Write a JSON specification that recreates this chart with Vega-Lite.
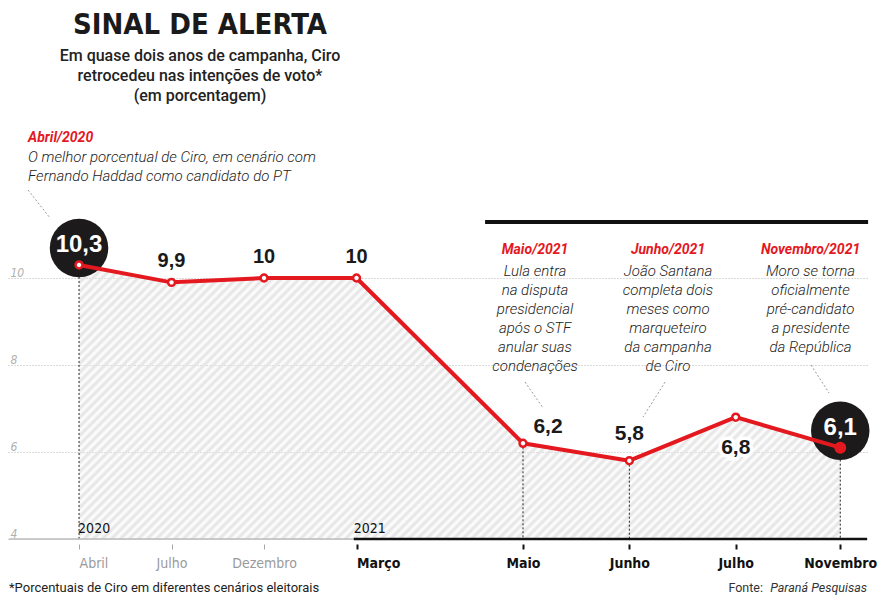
{
  "$schema": "https://vega.github.io/schema/vega-lite/v6.json",
  "autosize": "none",
  "width": 860,
  "height": 539,
  "padding": {"left": 8, "top": 0, "right": 18, "bottom": 61},
  "background": "white",
  "title": {
    "text": "SINAL DE ALERTA",
    "subtitle": ["Em quase dois anos de campanha, Ciro", "retrocedeu nas intenções de voto*", "(em porcentagem)"],
    "anchor": "start",
    "align": "center",
    "dx": 192,
    "frame": "group",
    "offset": -104,
    "font": "DejaVu Sans Condensed, sans-serif",
    "fontSize": 29,
    "fontWeight": "bold",
    "color": "#1a1a1a",
    "subtitleFont": "Roboto, sans-serif",
    "subtitleFontSize": 16,
    "subtitleFontWeight": 500,
    "subtitleColor": "#222222",
    "subtitleLineHeight": 20,
    "subtitlePadding": 8
  },
  "config": {"view": {"stroke": null}},
  "datasets": {
    "pesquisa": [
      {"periodo": "Abr/2020", "t": 0, "valor": 10.3, "destaque": true, "nota": true},
      {"periodo": "Jul/2020", "t": 1, "valor": 9.9, "destaque": false, "nota": false},
      {"periodo": "Dez/2020", "t": 2, "valor": 10, "destaque": false, "nota": false},
      {"periodo": "Mar/2021", "t": 3, "valor": 10, "destaque": false, "nota": false},
      {"periodo": "Mai/2021", "t": 4.8, "valor": 6.2, "destaque": false, "nota": true},
      {"periodo": "Jun/2021", "t": 5.95, "valor": 5.8, "destaque": false, "nota": true},
      {"periodo": "Jul/2021", "t": 7.1, "valor": 6.8, "destaque": false, "nota": false},
      {"periodo": "Nov/2021", "t": 8.23, "valor": 6.1, "destaque": true, "nota": true}
    ],
    "notas": [
      {"x": -0.551, "y": 13.126, "lado": "esquerda", "titulo": "Abril/2020", "texto": "O melhor porcentual de Ciro, em cenário com\nFernando Haddad como candidato do PT"},
      {"x": 4.93, "y": 10.552, "lado": "direita", "titulo": "Maio/2021", "texto": "Lula entra\nna disputa\npresidencial\napós o STF\nanular suas\ncondenações"},
      {"x": 6.368, "y": 10.552, "lado": "direita", "titulo": "Junho/2021", "texto": "João Santana\ncompleta dois\nmeses como\nmarqueteiro\nda campanha\nde Ciro"},
      {"x": 7.909, "y": 10.552, "lado": "direita", "titulo": "Novembro/2021", "texto": "Moro se torna\noficialmente\npré-candidato\na presidente\nda República"}
    ],
    "guias": [
      {"x": -0.551, "y": 12.023, "x2": -0.3135, "y2": 11.379},
      {"x": 4.822, "y": 7.609, "x2": 5.017, "y2": 7.011},
      {"x": 6.336, "y": 7.609, "x2": 6.098, "y2": 6.805},
      {"x": 7.914, "y": 8.0, "x2": 8.109, "y2": 7.356}
    ],
    "segmentos": [
      {"x": -0.757, "x2": 2.97, "y": 4, "tipo": "2020"},
      {"x": 2.97, "x2": 8.52, "y": 4, "tipo": "2021"},
      {"x": 4.39, "x2": 8.531, "y": 11.287, "tipo": "topo"}
    ],
    "anos": [
      {"x": -0.01, "y": 4, "texto": "2020"},
      {"x": 2.97, "y": 4, "texto": "2021"}
    ],
    "rodape": [
      {"x": -0.757, "y": 2.782, "tipo": "nota", "texto": "*Porcentuais de Ciro em diferentes cenários eleitorais"},
      {"x": 7.395, "y": 2.782, "tipo": "fonte", "texto": "Fonte:"},
      {"x": 8.52, "y": 2.782, "tipo": "instituto", "texto": "Paraná Pesquisas"}
    ]
  },
  "layer": [
    {
      "data": {"name": "pesquisa"},
      "mark": {
        "type": "area",
        "fill": {
          "gradient": "linear", "x1": 0, "y1": 0, "x2": 1.309, "y2": 0.471,
          "stops": [
            {"offset":0,"color":"#e3e3e3"},{"offset":0.004,"color":"rgba(227,227,227,0)"},{"offset":0.008,"color":"#e3e3e3"},{"offset":0.012,"color":"rgba(227,227,227,0)"},{"offset":0.016,"color":"#e3e3e3"},{"offset":0.02,"color":"rgba(227,227,227,0)"},{"offset":0.024,"color":"#e3e3e3"},{"offset":0.028,"color":"rgba(227,227,227,0)"},{"offset":0.032,"color":"#e3e3e3"},{"offset":0.036,"color":"rgba(227,227,227,0)"},
            {"offset":0.04,"color":"#e3e3e3"},{"offset":0.044,"color":"rgba(227,227,227,0)"},{"offset":0.048,"color":"#e3e3e3"},{"offset":0.052,"color":"rgba(227,227,227,0)"},{"offset":0.056,"color":"#e3e3e3"},{"offset":0.06,"color":"rgba(227,227,227,0)"},{"offset":0.064,"color":"#e3e3e3"},{"offset":0.068,"color":"rgba(227,227,227,0)"},{"offset":0.072,"color":"#e3e3e3"},{"offset":0.076,"color":"rgba(227,227,227,0)"},
            {"offset":0.08,"color":"#e3e3e3"},{"offset":0.084,"color":"rgba(227,227,227,0)"},{"offset":0.088,"color":"#e3e3e3"},{"offset":0.092,"color":"rgba(227,227,227,0)"},{"offset":0.096,"color":"#e3e3e3"},{"offset":0.1,"color":"rgba(227,227,227,0)"},{"offset":0.104,"color":"#e3e3e3"},{"offset":0.108,"color":"rgba(227,227,227,0)"},{"offset":0.112,"color":"#e3e3e3"},{"offset":0.116,"color":"rgba(227,227,227,0)"},
            {"offset":0.12,"color":"#e3e3e3"},{"offset":0.124,"color":"rgba(227,227,227,0)"},{"offset":0.128,"color":"#e3e3e3"},{"offset":0.132,"color":"rgba(227,227,227,0)"},{"offset":0.136,"color":"#e3e3e3"},{"offset":0.14,"color":"rgba(227,227,227,0)"},{"offset":0.144,"color":"#e3e3e3"},{"offset":0.148,"color":"rgba(227,227,227,0)"},{"offset":0.152,"color":"#e3e3e3"},{"offset":0.156,"color":"rgba(227,227,227,0)"},
            {"offset":0.16,"color":"#e3e3e3"},{"offset":0.164,"color":"rgba(227,227,227,0)"},{"offset":0.168,"color":"#e3e3e3"},{"offset":0.172,"color":"rgba(227,227,227,0)"},{"offset":0.176,"color":"#e3e3e3"},{"offset":0.18,"color":"rgba(227,227,227,0)"},{"offset":0.184,"color":"#e3e3e3"},{"offset":0.188,"color":"rgba(227,227,227,0)"},{"offset":0.192,"color":"#e3e3e3"},{"offset":0.196,"color":"rgba(227,227,227,0)"},
            {"offset":0.2,"color":"#e3e3e3"},{"offset":0.204,"color":"rgba(227,227,227,0)"},{"offset":0.208,"color":"#e3e3e3"},{"offset":0.212,"color":"rgba(227,227,227,0)"},{"offset":0.216,"color":"#e3e3e3"},{"offset":0.22,"color":"rgba(227,227,227,0)"},{"offset":0.224,"color":"#e3e3e3"},{"offset":0.228,"color":"rgba(227,227,227,0)"},{"offset":0.232,"color":"#e3e3e3"},{"offset":0.236,"color":"rgba(227,227,227,0)"},
            {"offset":0.24,"color":"#e3e3e3"},{"offset":0.244,"color":"rgba(227,227,227,0)"},{"offset":0.248,"color":"#e3e3e3"},{"offset":0.252,"color":"rgba(227,227,227,0)"},{"offset":0.256,"color":"#e3e3e3"},{"offset":0.26,"color":"rgba(227,227,227,0)"},{"offset":0.264,"color":"#e3e3e3"},{"offset":0.268,"color":"rgba(227,227,227,0)"},{"offset":0.272,"color":"#e3e3e3"},{"offset":0.276,"color":"rgba(227,227,227,0)"},
            {"offset":0.28,"color":"#e3e3e3"},{"offset":0.284,"color":"rgba(227,227,227,0)"},{"offset":0.288,"color":"#e3e3e3"},{"offset":0.292,"color":"rgba(227,227,227,0)"},{"offset":0.296,"color":"#e3e3e3"},{"offset":0.3,"color":"rgba(227,227,227,0)"},{"offset":0.304,"color":"#e3e3e3"},{"offset":0.308,"color":"rgba(227,227,227,0)"},{"offset":0.312,"color":"#e3e3e3"},{"offset":0.316,"color":"rgba(227,227,227,0)"},
            {"offset":0.32,"color":"#e3e3e3"},{"offset":0.324,"color":"rgba(227,227,227,0)"},{"offset":0.328,"color":"#e3e3e3"},{"offset":0.332,"color":"rgba(227,227,227,0)"},{"offset":0.336,"color":"#e3e3e3"},{"offset":0.34,"color":"rgba(227,227,227,0)"},{"offset":0.344,"color":"#e3e3e3"},{"offset":0.348,"color":"rgba(227,227,227,0)"},{"offset":0.352,"color":"#e3e3e3"},{"offset":0.356,"color":"rgba(227,227,227,0)"},
            {"offset":0.36,"color":"#e3e3e3"},{"offset":0.364,"color":"rgba(227,227,227,0)"},{"offset":0.368,"color":"#e3e3e3"},{"offset":0.372,"color":"rgba(227,227,227,0)"},{"offset":0.376,"color":"#e3e3e3"},{"offset":0.38,"color":"rgba(227,227,227,0)"},{"offset":0.384,"color":"#e3e3e3"},{"offset":0.388,"color":"rgba(227,227,227,0)"},{"offset":0.392,"color":"#e3e3e3"},{"offset":0.396,"color":"rgba(227,227,227,0)"},
            {"offset":0.4,"color":"#e3e3e3"},{"offset":0.404,"color":"rgba(227,227,227,0)"},{"offset":0.408,"color":"#e3e3e3"},{"offset":0.412,"color":"rgba(227,227,227,0)"},{"offset":0.416,"color":"#e3e3e3"},{"offset":0.42,"color":"rgba(227,227,227,0)"},{"offset":0.424,"color":"#e3e3e3"},{"offset":0.428,"color":"rgba(227,227,227,0)"},{"offset":0.432,"color":"#e3e3e3"},{"offset":0.436,"color":"rgba(227,227,227,0)"},
            {"offset":0.44,"color":"#e3e3e3"},{"offset":0.444,"color":"rgba(227,227,227,0)"},{"offset":0.448,"color":"#e3e3e3"},{"offset":0.452,"color":"rgba(227,227,227,0)"},{"offset":0.456,"color":"#e3e3e3"},{"offset":0.46,"color":"rgba(227,227,227,0)"},{"offset":0.464,"color":"#e3e3e3"},{"offset":0.468,"color":"rgba(227,227,227,0)"},{"offset":0.472,"color":"#e3e3e3"},{"offset":0.476,"color":"rgba(227,227,227,0)"},
            {"offset":0.48,"color":"#e3e3e3"},{"offset":0.484,"color":"rgba(227,227,227,0)"},{"offset":0.488,"color":"#e3e3e3"},{"offset":0.492,"color":"rgba(227,227,227,0)"},{"offset":0.496,"color":"#e3e3e3"},{"offset":0.5,"color":"rgba(227,227,227,0)"},{"offset":0.504,"color":"#e3e3e3"},{"offset":0.508,"color":"rgba(227,227,227,0)"},{"offset":0.512,"color":"#e3e3e3"},{"offset":0.516,"color":"rgba(227,227,227,0)"},
            {"offset":0.52,"color":"#e3e3e3"},{"offset":0.524,"color":"rgba(227,227,227,0)"},{"offset":0.528,"color":"#e3e3e3"},{"offset":0.532,"color":"rgba(227,227,227,0)"},{"offset":0.536,"color":"#e3e3e3"},{"offset":0.54,"color":"rgba(227,227,227,0)"},{"offset":0.544,"color":"#e3e3e3"},{"offset":0.548,"color":"rgba(227,227,227,0)"},{"offset":0.552,"color":"#e3e3e3"},{"offset":0.556,"color":"rgba(227,227,227,0)"},
            {"offset":0.56,"color":"#e3e3e3"},{"offset":0.564,"color":"rgba(227,227,227,0)"},{"offset":0.568,"color":"#e3e3e3"},{"offset":0.572,"color":"rgba(227,227,227,0)"},{"offset":0.576,"color":"#e3e3e3"},{"offset":0.58,"color":"rgba(227,227,227,0)"},{"offset":0.584,"color":"#e3e3e3"},{"offset":0.588,"color":"rgba(227,227,227,0)"},{"offset":0.592,"color":"#e3e3e3"},{"offset":0.596,"color":"rgba(227,227,227,0)"},
            {"offset":0.6,"color":"#e3e3e3"},{"offset":0.604,"color":"rgba(227,227,227,0)"},{"offset":0.608,"color":"#e3e3e3"},{"offset":0.612,"color":"rgba(227,227,227,0)"},{"offset":0.616,"color":"#e3e3e3"},{"offset":0.62,"color":"rgba(227,227,227,0)"},{"offset":0.624,"color":"#e3e3e3"},{"offset":0.628,"color":"rgba(227,227,227,0)"},{"offset":0.632,"color":"#e3e3e3"},{"offset":0.636,"color":"rgba(227,227,227,0)"},
            {"offset":0.64,"color":"#e3e3e3"},{"offset":0.644,"color":"rgba(227,227,227,0)"},{"offset":0.648,"color":"#e3e3e3"},{"offset":0.652,"color":"rgba(227,227,227,0)"},{"offset":0.656,"color":"#e3e3e3"},{"offset":0.66,"color":"rgba(227,227,227,0)"},{"offset":0.664,"color":"#e3e3e3"},{"offset":0.668,"color":"rgba(227,227,227,0)"},{"offset":0.672,"color":"#e3e3e3"},{"offset":0.676,"color":"rgba(227,227,227,0)"},
            {"offset":0.68,"color":"#e3e3e3"},{"offset":0.684,"color":"rgba(227,227,227,0)"},{"offset":0.688,"color":"#e3e3e3"},{"offset":0.692,"color":"rgba(227,227,227,0)"},{"offset":0.696,"color":"#e3e3e3"},{"offset":0.7,"color":"rgba(227,227,227,0)"},{"offset":0.704,"color":"#e3e3e3"},{"offset":0.708,"color":"rgba(227,227,227,0)"},{"offset":0.712,"color":"#e3e3e3"},{"offset":0.716,"color":"rgba(227,227,227,0)"},
            {"offset":0.72,"color":"#e3e3e3"},{"offset":0.724,"color":"rgba(227,227,227,0)"},{"offset":0.728,"color":"#e3e3e3"},{"offset":0.732,"color":"rgba(227,227,227,0)"},{"offset":0.736,"color":"#e3e3e3"},{"offset":0.74,"color":"rgba(227,227,227,0)"},{"offset":0.744,"color":"#e3e3e3"},{"offset":0.748,"color":"rgba(227,227,227,0)"},{"offset":0.752,"color":"#e3e3e3"},{"offset":0.756,"color":"rgba(227,227,227,0)"},
            {"offset":0.76,"color":"#e3e3e3"},{"offset":0.764,"color":"rgba(227,227,227,0)"},{"offset":0.768,"color":"#e3e3e3"},{"offset":0.772,"color":"rgba(227,227,227,0)"},{"offset":0.776,"color":"#e3e3e3"},{"offset":0.78,"color":"rgba(227,227,227,0)"},{"offset":0.784,"color":"#e3e3e3"},{"offset":0.788,"color":"rgba(227,227,227,0)"},{"offset":0.792,"color":"#e3e3e3"},{"offset":0.796,"color":"rgba(227,227,227,0)"},
            {"offset":0.8,"color":"#e3e3e3"},{"offset":0.804,"color":"rgba(227,227,227,0)"},{"offset":0.808,"color":"#e3e3e3"},{"offset":0.812,"color":"rgba(227,227,227,0)"},{"offset":0.816,"color":"#e3e3e3"},{"offset":0.82,"color":"rgba(227,227,227,0)"},{"offset":0.824,"color":"#e3e3e3"},{"offset":0.828,"color":"rgba(227,227,227,0)"},{"offset":0.832,"color":"#e3e3e3"},{"offset":0.836,"color":"rgba(227,227,227,0)"},
            {"offset":0.84,"color":"#e3e3e3"},{"offset":0.844,"color":"rgba(227,227,227,0)"},{"offset":0.848,"color":"#e3e3e3"},{"offset":0.852,"color":"rgba(227,227,227,0)"},{"offset":0.856,"color":"#e3e3e3"},{"offset":0.86,"color":"rgba(227,227,227,0)"},{"offset":0.864,"color":"#e3e3e3"},{"offset":0.868,"color":"rgba(227,227,227,0)"},{"offset":0.872,"color":"#e3e3e3"},{"offset":0.876,"color":"rgba(227,227,227,0)"},
            {"offset":0.88,"color":"#e3e3e3"},{"offset":0.884,"color":"rgba(227,227,227,0)"},{"offset":0.888,"color":"#e3e3e3"},{"offset":0.892,"color":"rgba(227,227,227,0)"},{"offset":0.896,"color":"#e3e3e3"},{"offset":0.9,"color":"rgba(227,227,227,0)"},{"offset":0.904,"color":"#e3e3e3"},{"offset":0.908,"color":"rgba(227,227,227,0)"},{"offset":0.912,"color":"#e3e3e3"},{"offset":0.916,"color":"rgba(227,227,227,0)"},
            {"offset":0.92,"color":"#e3e3e3"},{"offset":0.924,"color":"rgba(227,227,227,0)"},{"offset":0.928,"color":"#e3e3e3"},{"offset":0.932,"color":"rgba(227,227,227,0)"},{"offset":0.936,"color":"#e3e3e3"},{"offset":0.94,"color":"rgba(227,227,227,0)"},{"offset":0.944,"color":"#e3e3e3"},{"offset":0.948,"color":"rgba(227,227,227,0)"},{"offset":0.952,"color":"#e3e3e3"},{"offset":0.956,"color":"rgba(227,227,227,0)"},
            {"offset":0.96,"color":"#e3e3e3"}
          ]
        }
      },
      "encoding": {
        "x": {
          "field": "t", "type": "quantitative",
          "scale": {"domain": [-0.768, 8.53], "nice": false, "zero": false},
          "axis": {
            "title": null, "orient": "bottom",
            "values": [0, 1, 2, 3, 4.8, 5.95, 7.1, 8.23],
            "labelExpr": "datum.value == 0 ? 'Abril' : datum.value == 1 ? 'Julho' : datum.value == 2 ? 'Dezembro' : datum.value == 3 ? 'Março' : datum.value == 4.8 ? 'Maio' : datum.value == 5.95 ? 'Junho' : datum.value == 7.1 ? 'Julho' : 'Novembro'",
            "domain": false, "grid": false, "offset": 5, "tickSize": 5,
            "tickColor": {"condition": {"test": "datum.value < 2.5", "value": "#a8a8a8"}, "value": "#111111"},
            "tickWidth": {"condition": {"test": "datum.value < 2.5", "value": 1}, "value": 2},
            "labelColor": {"condition": {"test": "datum.value < 2.5", "value": "#9a9a9a"}, "value": "#111111"},
            "labelFontWeight": {"condition": {"test": "datum.value < 2.5", "value": "normal"}, "value": "bold"},
            "labelAlign": {"condition": {"test": "datum.value == 0 || datum.value == 3", "value": "left"}, "value": "center"},
            "labelFont": "DejaVu Sans Condensed, sans-serif",
            "labelFontSize": 14, "labelPadding": 7, "labelBaseline": "top",
            "labelFlush": false, "labelOverlap": false, "labelBound": false
          }
        },
        "y": {
          "field": "valor", "type": "quantitative",
          "scale": {"domain": [4, 16.391], "nice": false, "zero": false},
          "axis": {
            "title": null, "orient": "left", "values": [4, 6, 8, 10],
            "domain": false, "ticks": false, "tickSize": 0,
            "grid": true, "gridColor": "#b5b5b5", "gridDash": [1, 2], "gridWidth": 1,
            "labelAlign": "left", "labelBaseline": "alphabetic", "labelPadding": -2, "labelOffset": -2,
            "labelFont": "DejaVu Sans Condensed, sans-serif",
            "labelFontStyle": "italic", "labelFontSize": 12, "labelColor": "#b0b0b0"
          }
        },
        "y2": {"datum": 4}
      }
    },
    {
      "data": {"name": "pesquisa"},
      "transform": [{"filter": "datum.nota"}],
      "mark": {"type": "rule", "color": "#222222", "strokeDash": [2, 2], "strokeWidth": 1},
      "encoding": {
        "x": {"field": "t", "type": "quantitative"},
        "y": {"field": "valor", "type": "quantitative"},
        "y2": {"datum": 4}
      }
    },
    {
      "data": {"name": "guias"},
      "mark": {"type": "rule", "color": "#9a9a9a", "strokeDash": [2, 2], "strokeWidth": 1},
      "encoding": {
        "x": {"field": "x", "type": "quantitative"},
        "y": {"field": "y", "type": "quantitative"},
        "x2": {"field": "x2"},
        "y2": {"field": "y2"}
      }
    },
    {
      "data": {"name": "segmentos"},
      "mark": {"type": "rule", "strokeCap": "butt"},
      "encoding": {
        "x": {"field": "x", "type": "quantitative"},
        "x2": {"field": "x2"},
        "y": {"field": "y", "type": "quantitative"},
        "color": {"condition": {"test": "datum.tipo == '2020'", "value": "#bdbdbd"}, "value": "#111111"},
        "strokeWidth": {"condition": [{"test": "datum.tipo == '2020'", "value": 1.5}, {"test": "datum.tipo == '2021'", "value": 2.5}], "value": 4}
      }
    },
    {
      "data": {"name": "pesquisa"},
      "transform": [{"filter": "datum.destaque"}],
      "mark": {"type": "point", "shape": "circle", "filled": true, "color": "#1c1a1a", "size": 3420, "opacity": 1, "yOffset": -17},
      "encoding": {
        "x": {"field": "t", "type": "quantitative"},
        "y": {"field": "valor", "type": "quantitative"}
      }
    },
    {
      "data": {"name": "pesquisa"},
      "mark": {"type": "line", "color": "#e3191f", "strokeWidth": 4, "strokeJoin": "round"},
      "encoding": {
        "x": {"field": "t", "type": "quantitative"},
        "y": {"field": "valor", "type": "quantitative"}
      }
    },
    {
      "data": {"name": "pesquisa"},
      "mark": {"type": "point", "shape": "circle", "filled": true, "stroke": "#e3191f", "strokeWidth": 2.5, "opacity": 1},
      "encoding": {
        "x": {"field": "t", "type": "quantitative"},
        "y": {"field": "valor", "type": "quantitative"},
        "fill": {"condition": {"test": "datum.periodo == 'Nov/2021'", "value": "#e3191f"}, "value": "#ffffff"},
        "size": {"condition": {"test": "datum.periodo == 'Nov/2021'", "value": 90}, "value": 48}
      }
    },
    {
      "data": {"name": "pesquisa"},
      "transform": [{"filter": "datum.t >= 1 && datum.t <= 3"}, {"calculate": "replace(toString(datum.valor), '.', ',')", "as": "rotulo"}],
      "mark": {"type": "text", "font": "Liberation Sans, Arial, sans-serif", "fontWeight": "bold", "fontSize": 20, "color": "#1a1a1a", "align": "center", "baseline": "alphabetic", "dy": -15},
      "encoding": {
        "x": {"field": "t", "type": "quantitative"},
        "y": {"field": "valor", "type": "quantitative"},
        "text": {"field": "rotulo"}
      }
    },
    {
      "data": {"name": "pesquisa"},
      "transform": [{"filter": "datum.periodo == 'Mai/2021'"}, {"calculate": "replace(toString(datum.valor), '.', ',')", "as": "rotulo"}],
      "mark": {"type": "text", "font": "Liberation Sans, Arial, sans-serif", "fontWeight": "bold", "fontSize": 21, "color": "#1a1a1a", "align": "center", "baseline": "alphabetic", "dx": 25, "dy": -10},
      "encoding": {
        "x": {"field": "t", "type": "quantitative"},
        "y": {"field": "valor", "type": "quantitative"},
        "text": {"field": "rotulo"}
      }
    },
    {
      "data": {"name": "pesquisa"},
      "transform": [{"filter": "datum.periodo == 'Jun/2021'"}, {"calculate": "replace(toString(datum.valor), '.', ',')", "as": "rotulo"}],
      "mark": {"type": "text", "font": "Liberation Sans, Arial, sans-serif", "fontWeight": "bold", "fontSize": 21, "color": "#1a1a1a", "align": "center", "baseline": "alphabetic", "dy": -21},
      "encoding": {
        "x": {"field": "t", "type": "quantitative"},
        "y": {"field": "valor", "type": "quantitative"},
        "text": {"field": "rotulo"}
      }
    },
    {
      "data": {"name": "pesquisa"},
      "transform": [{"filter": "datum.periodo == 'Jul/2021'"}, {"calculate": "replace(toString(datum.valor), '.', ',')", "as": "rotulo"}],
      "mark": {"type": "text", "font": "Liberation Sans, Arial, sans-serif", "fontWeight": "bold", "fontSize": 21, "color": "#ffffff", "stroke": "#ffffff", "strokeWidth": 7, "align": "center", "baseline": "alphabetic", "dy": 37},
      "encoding": {
        "x": {"field": "t", "type": "quantitative"},
        "y": {"field": "valor", "type": "quantitative"},
        "text": {"field": "rotulo"}
      }
    },
    {
      "data": {"name": "pesquisa"},
      "transform": [{"filter": "datum.periodo == 'Jul/2021'"}, {"calculate": "replace(toString(datum.valor), '.', ',')", "as": "rotulo"}],
      "mark": {"type": "text", "font": "Liberation Sans, Arial, sans-serif", "fontWeight": "bold", "fontSize": 21, "color": "#1a1a1a", "align": "center", "baseline": "alphabetic", "dy": 37},
      "encoding": {
        "x": {"field": "t", "type": "quantitative"},
        "y": {"field": "valor", "type": "quantitative"},
        "text": {"field": "rotulo"}
      }
    },
    {
      "data": {"name": "pesquisa"},
      "transform": [{"filter": "datum.destaque"}, {"calculate": "replace(toString(datum.valor), '.', ',')", "as": "rotulo"}],
      "mark": {"type": "text", "font": "Liberation Sans, Arial, sans-serif", "fontWeight": "bold", "fontSize": 24, "color": "#ffffff", "align": "center", "baseline": "alphabetic", "dy": -13},
      "encoding": {
        "x": {"field": "t", "type": "quantitative"},
        "y": {"field": "valor", "type": "quantitative"},
        "text": {"field": "rotulo"}
      }
    },
    {
      "data": {"name": "notas"},
      "transform": [{"filter": "datum.lado == 'esquerda'"}],
      "mark": {"type": "text", "font": "Roboto, sans-serif", "fontWeight": "bold", "fontStyle": "italic", "fontSize": 14, "color": "#e3191f", "align": "left", "baseline": "alphabetic"},
      "encoding": {
        "x": {"field": "x", "type": "quantitative"},
        "y": {"field": "y", "type": "quantitative"},
        "text": {"field": "titulo"}
      }
    },
    {
      "data": {"name": "notas"},
      "transform": [{"filter": "datum.lado == 'esquerda'"}],
      "mark": {"type": "text", "font": "Roboto, sans-serif", "fontWeight": 300, "fontStyle": "italic", "fontSize": 15, "color": "#222222", "align": "left", "baseline": "alphabetic", "dy": 20, "lineBreak": "\n", "lineHeight": 19},
      "encoding": {
        "x": {"field": "x", "type": "quantitative"},
        "y": {"field": "y", "type": "quantitative"},
        "text": {"field": "texto"}
      }
    },
    {
      "data": {"name": "notas"},
      "transform": [{"filter": "datum.lado == 'direita'"}],
      "mark": {"type": "text", "font": "Roboto, sans-serif", "fontWeight": "bold", "fontStyle": "italic", "fontSize": 14, "color": "#e3191f", "align": "center", "baseline": "alphabetic"},
      "encoding": {
        "x": {"field": "x", "type": "quantitative"},
        "y": {"field": "y", "type": "quantitative"},
        "text": {"field": "titulo"}
      }
    },
    {
      "data": {"name": "notas"},
      "transform": [{"filter": "datum.lado == 'direita'"}],
      "mark": {"type": "text", "font": "Roboto, sans-serif", "fontWeight": 300, "fontStyle": "italic", "fontSize": 15, "color": "#222222", "align": "center", "baseline": "alphabetic", "dy": 22, "lineBreak": "\n", "lineHeight": 19},
      "encoding": {
        "x": {"field": "x", "type": "quantitative"},
        "y": {"field": "y", "type": "quantitative"},
        "text": {"field": "texto"}
      }
    },
    {
      "data": {"name": "anos"},
      "mark": {"type": "text", "font": "DejaVu Sans Condensed, sans-serif", "fontSize": 14, "color": "#111111", "align": "left", "baseline": "alphabetic", "dy": -6},
      "encoding": {
        "x": {"field": "x", "type": "quantitative"},
        "y": {"field": "y", "type": "quantitative"},
        "text": {"field": "texto"}
      }
    },
    {
      "data": {"name": "rodape"},
      "transform": [{"filter": "datum.tipo == 'nota'"}],
      "mark": {"type": "text", "font": "Roboto, sans-serif", "fontSize": 13, "color": "#222222", "align": "left", "baseline": "alphabetic"},
      "encoding": {
        "x": {"field": "x", "type": "quantitative"},
        "y": {"field": "y", "type": "quantitative"},
        "text": {"field": "texto"}
      }
    },
    {
      "data": {"name": "rodape"},
      "transform": [{"filter": "datum.tipo == 'fonte'"}],
      "mark": {"type": "text", "font": "Roboto, sans-serif", "fontSize": 12.5, "color": "#333333", "align": "right", "baseline": "alphabetic"},
      "encoding": {
        "x": {"field": "x", "type": "quantitative"},
        "y": {"field": "y", "type": "quantitative"},
        "text": {"field": "texto"}
      }
    },
    {
      "data": {"name": "rodape"},
      "transform": [{"filter": "datum.tipo == 'instituto'"}],
      "mark": {"type": "text", "font": "Roboto, sans-serif", "fontStyle": "italic", "fontSize": 12.5, "color": "#333333", "align": "right", "baseline": "alphabetic"},
      "encoding": {
        "x": {"field": "x", "type": "quantitative"},
        "y": {"field": "y", "type": "quantitative"},
        "text": {"field": "texto"}
      }
    }
  ]
}
